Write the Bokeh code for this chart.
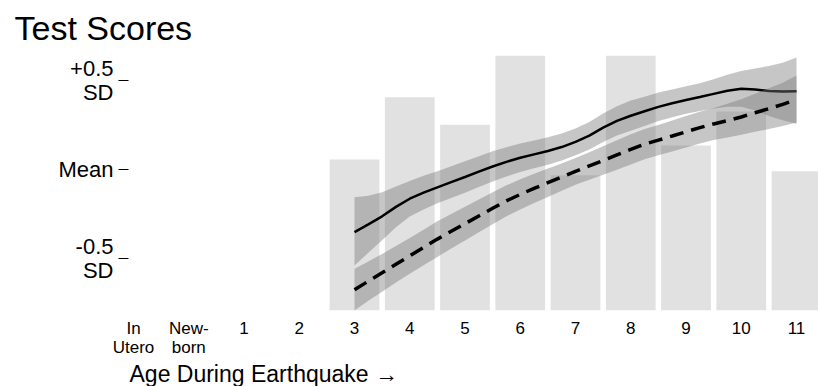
from bokeh.plotting import figure
from bokeh.models import Range1d, FixedTicker, Title
from bokeh.embed import file_html
from bokeh.resources import INLINE

FONT = "Liberation Sans"

# ---- data ----
tick_pos = [-1, 0, 1, 2, 3, 4, 5, 6, 7, 8, 9, 10, 11]
tick_labels = ["In\nUtero", "New-\nborn", "1", "2", "3", "4", "5", "6", "7", "8", "9", "10", "11"]
y_ticks = [-0.5, 0, 0.5]
y_tick_labels = ["-0.5\nSD", "Mean", "+0.5\nSD"]

bar_age = [3, 4, 5, 6, 7, 8, 9, 10, 11]
bar_share = [0.592, 0.836, 0.728, 1.0, 0.53, 1.0, 0.647, 0.78, 0.546]

curve_age = [3.0, 3.25, 3.5, 3.75, 4.0, 4.25, 4.5, 4.75, 5.0, 5.25, 5.5, 5.75,
             6.0, 6.25, 6.5, 6.75, 7.0, 7.25, 7.5, 7.75, 8.0, 8.25, 8.5, 8.75,
             9.0, 9.25, 9.5, 9.75, 10.0, 10.25, 10.5, 10.75, 11.0]

solid_mean = [-0.352, -0.308, -0.263, -0.21, -0.164, -0.13, -0.100, -0.071, -0.042, -0.012, 0.017, 0.043,
              0.066, 0.085, 0.104, 0.126, 0.155, 0.19, 0.235, 0.273, 0.302, 0.327, 0.352, 0.372,
              0.39, 0.407, 0.425, 0.442, 0.453, 0.450, 0.441, 0.438, 0.439]
solid_upper = [-0.156, -0.148, -0.128, -0.095, -0.064, -0.035, -0.010, 0.018, 0.046, 0.074, 0.102, 0.125,
               0.146, 0.163, 0.181, 0.202, 0.230, 0.267, 0.315, 0.355, 0.387, 0.409, 0.432, 0.450,
               0.467, 0.485, 0.507, 0.532, 0.553, 0.568, 0.581, 0.600, 0.629]
solid_lower = [-0.539, -0.468, -0.398, -0.325, -0.264, -0.225, -0.190, -0.160, -0.130, -0.098, -0.068, -0.039,
               -0.014, 0.007, 0.027, 0.050, 0.080, 0.113, 0.155, 0.191, 0.217, 0.245, 0.272, 0.294,
               0.313, 0.329, 0.343, 0.352, 0.353, 0.332, 0.301, 0.276, 0.257]

dashed_mean = [-0.676, -0.627, -0.580, -0.532, -0.485, -0.438, -0.391, -0.347, -0.304, -0.261, -0.218, -0.176,
               -0.140, -0.106, -0.074, -0.043, -0.011, 0.02, 0.051, 0.082, 0.113, 0.142, 0.165, 0.188,
               0.212, 0.235, 0.256, 0.275, 0.295, 0.319, 0.342, 0.366, 0.392]
dashed_upper = [-0.558, -0.517, -0.474, -0.429, -0.385, -0.338, -0.291, -0.250, -0.209, -0.169, -0.128, -0.089,
                -0.055, -0.024, 0.006, 0.034, 0.064, 0.097, 0.131, 0.165, 0.198, 0.227, 0.250, 0.275,
                0.300, 0.324, 0.346, 0.370, 0.395, 0.426, 0.457, 0.488, 0.528]
dashed_lower = [-0.792, -0.737, -0.686, -0.635, -0.585, -0.538, -0.491, -0.444, -0.399, -0.353, -0.308, -0.263,
                -0.225, -0.188, -0.154, -0.120, -0.086, -0.057, -0.029, -0.001, 0.028, 0.057, 0.080, 0.101,
                0.124, 0.146, 0.166, 0.180, 0.195, 0.212, 0.227, 0.244, 0.264]

# ---- figure ----
p = figure(frame_width=690, frame_height=255,
           x_range=Range1d(-1.0905, 11.398), y_range=Range1d(-0.792, 0.6404),
           output_backend="svg", toolbar_location=None,
           min_border_left=128, min_border_right=0,
           min_border_top=55, min_border_bottom=10)
p.extra_y_ranges = {"share": Range1d(0, 1)}
p.outline_line_color = None
p.xgrid.visible = False
p.ygrid.visible = False
p.background_fill_color = "white"
p.border_fill_color = "white"

p.vbar(x=bar_age, top=bar_share, bottom=0, width=0.9, y_range_name="share",
       fill_color="#e1e1e1", line_color=None)

p.varea(x=curve_age, y1=solid_lower, y2=solid_upper, fill_color="#777777", fill_alpha=0.42)
p.line(curve_age, solid_mean, line_color="black", line_width=2.5)
p.varea(x=curve_age, y1=dashed_lower, y2=dashed_upper, fill_color="#777777", fill_alpha=0.42)
p.line(curve_age, dashed_mean, line_color="black", line_width=3.5, line_dash="14 8")

# y axis
ya = p.yaxis[0]
ya.ticker = FixedTicker(ticks=y_ticks)
ya.major_label_overrides = dict(zip(y_ticks, y_tick_labels))
ya.axis_line_color = None
ya.major_tick_out = 10
ya.major_tick_in = 0
ya.major_tick_line_color = "black"
ya.major_tick_line_width = 1
ya.minor_tick_line_color = None
ya.major_label_standoff = 5
ya.major_label_text_font = FONT
ya.major_label_text_font_size = "22px"
ya.major_label_text_color = "black"
ya.major_label_text_line_height = 0.95

# x axis
xa = p.xaxis[0]
xa.ticker = FixedTicker(ticks=tick_pos)
xa.major_label_overrides = dict(zip(tick_pos, tick_labels))
xa.axis_line_color = None
xa.major_tick_out = 0
xa.major_tick_in = 0
xa.major_tick_line_color = None
xa.minor_tick_line_color = None
xa.major_label_standoff = 8
xa.major_label_text_font = FONT
xa.major_label_text_font_size = "17px"
xa.major_label_text_color = "black"
xa.major_label_text_line_height = 1.05

# title (top, left) and x-axis caption (bottom, left)
p.title.text = "Test Scores"
p.title.align = "left"
p.title.vertical_align = "top"
p.title.offset = -114
p.title.standoff = 13
p.title.text_font = FONT
p.title.text_font_size = "34px"
p.title.text_font_style = "normal"
p.title.text_color = "black"

p.add_layout(Title(text="Age During Earthquake \u2192", align="left", vertical_align="top",
                   offset=1, standoff=0,
                   text_font=FONT, text_font_size="23px", text_font_style="normal",
                   text_color="black"), "below")

open("out.html", "w").write(file_html(p, INLINE))
